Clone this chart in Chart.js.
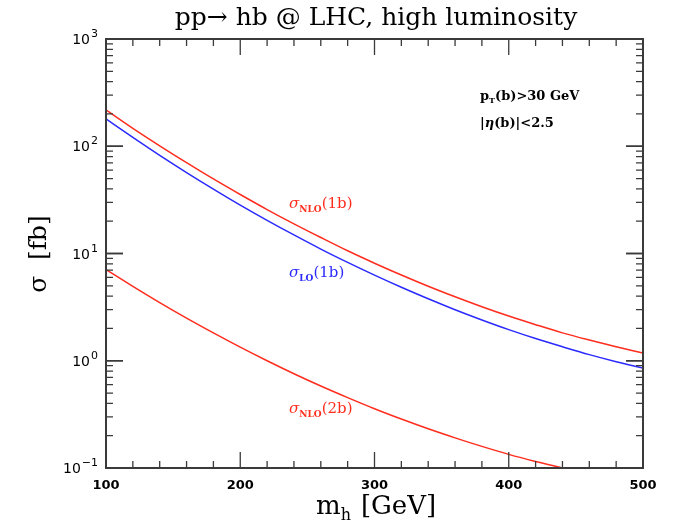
<!DOCTYPE html>
<html>
<head>
<meta charset="utf-8">
<script src="https://cdn.jsdelivr.net/npm/chart.js@4"></script>
<style>html,body{margin:0;padding:0;background:#fff}</style>
</head>
<body>
<canvas id="grafico" width="681" height="527"></canvas>
<script>
// m_h in GeV
const massas = [100, 120, 140, 160, 180, 200, 220, 240, 260, 280, 300, 320, 340, 360, 380, 400, 420, 440, 460, 480, 500];
// sigma in fb
const sigmaNLO1b = [218, 147, 101, 70.4, 49.6, 35.5, 25.7, 18.9, 14.1, 10.6, 8.12, 6.30, 4.95, 3.95, 3.19, 2.61, 2.17, 1.82, 1.56, 1.35, 1.18];
const sigmaLO1b = [180, 121, 82.3, 56.9, 39.9, 28.3, 20.4, 14.9, 11.0, 8.26, 6.28, 4.84, 3.78, 2.99, 2.40, 1.95, 1.61, 1.35, 1.14, 0.98, 0.855];
const sigmaNLO2b = [7.08, 4.94, 3.49, 2.50, 1.82, 1.34, 1.00, 0.757, 0.581, 0.453, 0.357, 0.286, 0.232, 0.191, 0.159, 0.134, 0.115, 0.100];

const xTicks = [100, 200, 300, 400, 500];
const xTickLabels = ['100', '200', '300', '400', '500'];
const yTicks = [0.1, 1, 10, 100, 1000];
const yTickExp = ['−1', '0', '1', '2', '3'];

const vermelho = '#ff2d1e';
const azul = '#2a2aff';

function pontos(ys) {
  return ys.map((y, i) => ({ x: massas[i], y: y }));
}

// texto com subscritos
function textoPartes(ctx, x, y, partes, cor) {
  ctx.save();
  ctx.fillStyle = cor;
  ctx.textAlign = 'left';
  ctx.textBaseline = 'alphabetic';
  partes.forEach(p => {
    ctx.font = p.font;
    ctx.fillText(p.t, x, y + (p.dy || 0));
    x += ctx.measureText(p.t).width + (p.gap || 0);
  });
  ctx.restore();
}

const moldura = {
  id: 'moldura',
  afterDraw(chart) {
    const ctx = chart.ctx;
    const a = chart.chartArea;
    const sx = chart.scales.x;
    const sy = chart.scales.y;

    ctx.save();
    ctx.strokeStyle = '#3a3a3a';
    ctx.lineWidth = 1.3;
    // ticks x
    for (let m = 100; m <= 500; m += 20) {
      const px = sx.getPixelForValue(m);
      const len = (m % 100 === 0) ? 16 : 7;
      ctx.beginPath();
      ctx.moveTo(px, a.bottom); ctx.lineTo(px, a.bottom - len);
      ctx.moveTo(px, a.top); ctx.lineTo(px, a.top + len);
      ctx.stroke();
    }
    // ticks y
    for (let d = 0.1; d < 1000; d *= 10) {
      for (let k = 1; k <= 10; k++) {
        const v = d * k;
        const py = sy.getPixelForValue(v);
        const len = (k === 1 || k === 10) ? 17 : 7;
        ctx.beginPath();
        ctx.moveTo(a.left, py); ctx.lineTo(a.left + len, py);
        ctx.moveTo(a.right, py); ctx.lineTo(a.right - len, py);
        ctx.stroke();
      }
    }
    ctx.lineWidth = 2;
    ctx.strokeRect(a.left, a.top, a.right - a.left, a.bottom - a.top);

    // labels x
    ctx.fillStyle = '#000';
    ctx.font = 'bold 13px "DejaVu Sans", sans-serif';
    ctx.textAlign = 'center';
    ctx.textBaseline = 'top';
    xTicks.forEach((v, i) => {
      ctx.fillText(xTickLabels[i], sx.getPixelForValue(v), a.bottom + 11);
    });
    // labels y
    yTicks.forEach((v, i) => {
      const py = sy.getPixelForValue(v);
      ctx.font = '11px "DejaVu Sans", sans-serif';
      ctx.textAlign = 'right';
      ctx.textBaseline = 'alphabetic';
      const we = ctx.measureText(yTickExp[i]).width;
      ctx.fillText(yTickExp[i], a.left - 8, py - 2);
      ctx.font = '14px "DejaVu Sans", sans-serif';
      ctx.fillText('10', a.left - 9 - we, py + 5);
    });

    // titulo
    ctx.font = '25px "DejaVu Serif", serif';
    ctx.textAlign = 'center';
    ctx.fillText('pp→ hb @ LHC, high luminosity', 376, 25);

    // eixo y
    ctx.save();
    ctx.translate(46, 254);
    ctx.rotate(-Math.PI / 2);
    ctx.font = '25px "DejaVu Serif", serif';
    ctx.textAlign = 'center';
    ctx.fillText('σ  [fb]', 0, 0);
    ctx.restore();
    ctx.restore();

    // eixo x
    textoPartes(ctx, 316, 514, [
      { t: 'm', font: '26px "DejaVu Serif", serif' },
      { t: 'h', font: '16px "DejaVu Serif", serif', dy: 6, gap: 10 },
      { t: '[GeV]', font: '26px "DejaVu Serif", serif' }
    ], '#000');

    // cortes
    textoPartes(ctx, 480, 100, [
      { t: 'p', font: 'bold 13px "DejaVu Serif", serif' },
      { t: 'T', font: 'bold 8px "DejaVu Serif", serif', dy: 3 },
      { t: '(b)>30 GeV', font: 'bold 13px "DejaVu Serif", serif' }
    ], '#000');
    textoPartes(ctx, 480, 127, [
      { t: '|', font: 'bold 13px "DejaVu Serif", serif' },
      { t: 'η', font: 'bold italic 13px "DejaVu Serif", serif' },
      { t: '(b)|<2.5', font: 'bold 13px "DejaVu Serif", serif' }
    ], '#000');

    // rotulos das curvas
    const rot = (x, y, sub, txt, cor) => textoPartes(ctx, x, y, [
      { t: 'σ', font: 'italic 15px "DejaVu Serif", serif' },
      { t: sub, font: 'bold 9px "DejaVu Serif", serif', dy: 4 },
      { t: txt, font: '15px "DejaVu Serif", serif' }
    ], cor);
    rot(289, 208, 'NLO', '(1b)', vermelho);
    rot(289, 277, 'LO', '(1b)', azul);
    rot(289, 413, 'NLO', '(2b)', vermelho);
  }
};

new Chart(document.getElementById('grafico').getContext('2d'), {
  type: 'line',
  data: {
    datasets: [
      { data: pontos(sigmaNLO1b), borderColor: vermelho },
      { data: pontos(sigmaLO1b), borderColor: azul },
      { data: pontos(sigmaNLO2b), borderColor: vermelho }
    ]
  },
  options: {
    responsive: false,
    animation: false,
    layout: { padding: { left: 106, right: 38, top: 39, bottom: 59 } },
    elements: {
      point: { radius: 0 },
      line: { borderWidth: 1.5, tension: 0.4, cubicInterpolationMode: 'monotone' }
    },
    scales: {
      x: { type: 'linear', min: 100, max: 500, display: false },
      y: { type: 'logarithmic', min: 0.1, max: 1000, display: false }
    },
    plugins: {
      legend: { display: false },
      tooltip: { enabled: false }
    }
  },
  plugins: [moldura]
});
</script>
</body>
</html>
